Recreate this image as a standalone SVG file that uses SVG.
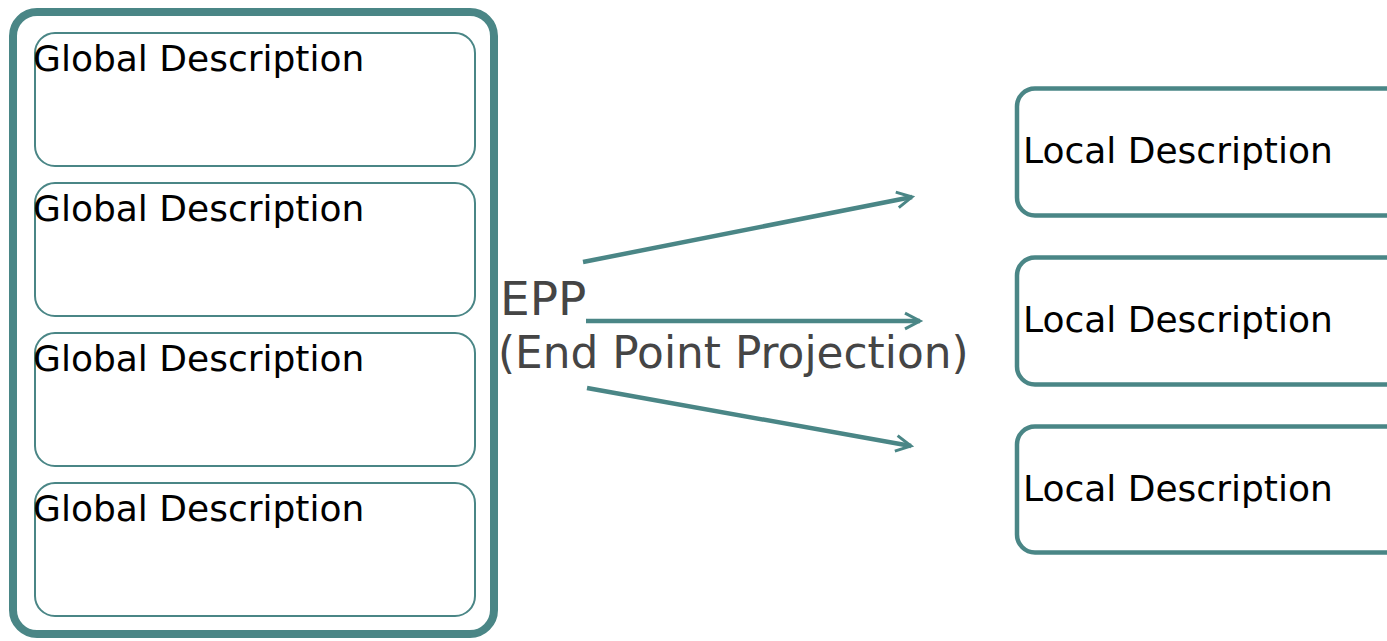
<svg xmlns="http://www.w3.org/2000/svg" width="1387" height="641" viewBox="0 0 1387 641">
  <style>
    .outer { fill: #ffffff; stroke: #4a8686; stroke-width: 8; }
    .global { fill: #ffffff; stroke: #4a8686; stroke-width: 2; }
    .local { fill: #ffffff; stroke: #4a8686; stroke-width: 4.5; }
    .label { font-family: "DejaVu Sans", sans-serif; font-size: 36px; fill: #000000; }
    .epp { font-family: "DejaVu Sans", sans-serif; fill: #454545; }
    .edge { stroke: #4a8686; stroke-width: 4.5; fill: none; marker-end: url(#chev); }
  </style>
  <defs>
    <marker id="chev" viewBox="0 0 12 12" refX="10" refY="6" markerWidth="5" markerHeight="5" markerUnits="strokeWidth" orient="auto">
      <path d="M2,1.8 L10,6 L2,10.2" fill="none" stroke="#4a8686" stroke-width="1.6"/>
    </marker>
  </defs>
  <rect width="1387" height="641" fill="#ffffff"/>

  <g id="global-container">
    <rect class="outer" x="13" y="12" width="481" height="622" rx="24"/>
  </g>
  <g id="global-1">
    <rect class="global" x="35" y="33" width="440" height="133" rx="20"/>
    <text class="label" x="33" y="71">Global Description</text>
  </g>
  <g id="global-2">
    <rect class="global" x="35" y="183" width="440" height="133" rx="20"/>
    <text class="label" x="33" y="221">Global Description</text>
  </g>
  <g id="global-3">
    <rect class="global" x="35" y="333" width="440" height="133" rx="20"/>
    <text class="label" x="33" y="371">Global Description</text>
  </g>
  <g id="global-4">
    <rect class="global" x="35" y="483" width="440" height="133" rx="20"/>
    <text class="label" x="33" y="521">Global Description</text>
  </g>

  <g id="epp-label">
    <text class="epp" x="500" y="315" font-size="47">EPP</text>
    <text class="epp" x="498" y="368" font-size="43.8">(End Point Projection)</text>
  </g>

  <g id="local-1">
    <rect class="local" x="1017" y="88.5" width="400" height="127" rx="18"/>
    <text class="label" x="1023" y="163">Local Description</text>
  </g>
  <g id="local-2">
    <rect class="local" x="1017" y="257.5" width="400" height="127" rx="18"/>
    <text class="label" x="1023" y="332">Local Description</text>
  </g>
  <g id="local-3">
    <rect class="local" x="1017" y="426.5" width="400" height="126" rx="18"/>
    <text class="label" x="1023" y="501">Local Description</text>
  </g>

  <g id="connectors">
    <line class="edge" x1="583" y1="262" x2="912" y2="197"/>
    <line class="edge" x1="586" y1="321" x2="920" y2="321"/>
    <line class="edge" x1="587" y1="388" x2="911" y2="446"/>
  </g>
</svg>
